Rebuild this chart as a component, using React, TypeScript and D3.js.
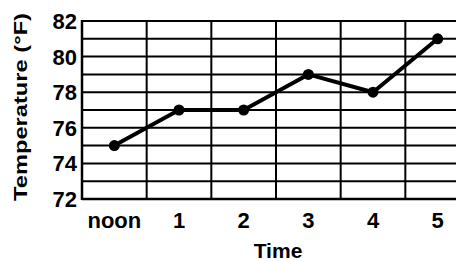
import * as d3 from 'd3';

const times = ['noon', '1', '2', '3', '4', '5'];
const temps = [75, 77, 77, 79, 78, 81];
const yTicks = [72, 74, 76, 78, 80, 82];
const gridDegrees = d3.range(72, 83);

const width = 456;
const height = 261;
const font = '"Liberation Sans", Arial, Helvetica, sans-serif';

export default function App() {
  const x = d3.scaleBand<string>().domain(times).range([82, 470]).padding(0);
  const y = d3.scaleLinear().domain([72, 82]).range([199, 21]);

  const points = times.map((t, i) => ({ t, v: temps[i] }));
  const line = d3
    .line<{ t: string; v: number }>()
    .x((d) => (x(d.t) ?? 0) + x.bandwidth() / 2)
    .y((d) => y(d.v));

  return (
    <svg
      width={width}
      height={height}
      viewBox={`0 0 ${width} ${height}`}
      style={{ position: 'absolute', left: 0, top: 0, background: '#fff' }}
      fontFamily={font}
      fontWeight="bold"
    >
      {/* horizontal grid, one per degree */}
      {gridDegrees.map((d) => (
        <line
          key={'h' + d}
          x1={82}
          x2={width}
          y1={y(d)}
          y2={y(d)}
          stroke="#000"
          strokeWidth={2}
        />
      ))}
      {/* vertical grid at band edges */}
      {times.map((t) => (
        <line
          key={'v' + t}
          x1={x(t)}
          x2={x(t)}
          y1={y(82) - 1}
          y2={y(72) + 1}
          stroke="#000"
          strokeWidth={2}
        />
      ))}
      <line x1={82} x2={82} y1={y(82) - 1} y2={y(72) + 1} stroke="#000" strokeWidth={2.5} />
      <line x1={82} x2={width} y1={y(72)} y2={y(72)} stroke="#000" strokeWidth={2.5} />

      {/* y tick labels */}
      {yTicks.map((d) => (
        <text
          key={'yt' + d}
          x={77}
          y={y(d)}
          dy="0.36em"
          textAnchor="end"
          fontSize={22}
          fill="#000"
        >
          {d}
        </text>
      ))}

      {/* x tick labels */}
      {times.map((t) => (
        <text
          key={'xt' + t}
          x={(x(t) ?? 0) + x.bandwidth() / 2}
          y={228}
          textAnchor="middle"
          fontSize={22}
          fill="#000"
        >
          {t}
        </text>
      ))}

      {/* axis titles */}
      <text x={278} y={258} textAnchor="middle" fontSize={21} fill="#000">
        Time
      </text>
      <text
        transform="translate(27,107) rotate(-90)"
        textAnchor="middle"
        fontSize={19}
        textLength={188}
        lengthAdjust="spacingAndGlyphs"
        fill="#000"
      >
        Temperature (°F)
      </text>

      {/* data line */}
      <path d={line(points) ?? ''} fill="none" stroke="#000" strokeWidth={4} strokeLinejoin="round" />
      {points.map((p) => (
        <circle
          key={'p' + p.t}
          cx={(x(p.t) ?? 0) + x.bandwidth() / 2}
          cy={y(p.v)}
          r={5.5}
          fill="#000"
        />
      ))}
    </svg>
  );
}
